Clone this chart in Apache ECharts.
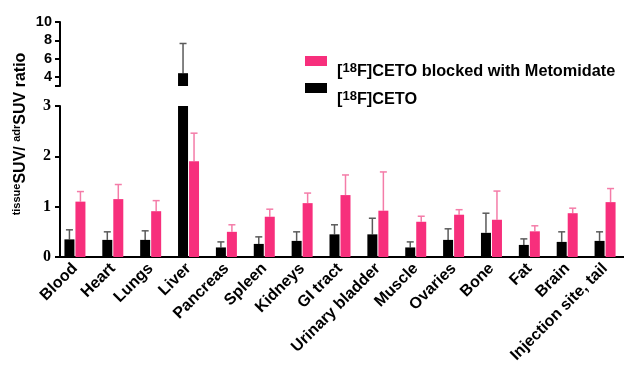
<!DOCTYPE html>
<html>
<head>
<meta charset="utf-8">
<script src="https://cdn.jsdelivr.net/npm/echarts@6.0.0/dist/echarts.min.js"></script>
<style>
  html, body { margin: 0; padding: 0; background: #fff; }
  #chart { width: 624px; height: 371px; }
</style>
</head>
<body>
<div id="chart"></div>
<script>
// Tissue-to-adrenal SUV ratios per organ, mean and upper error (SD)
const categories = ['Blood', 'Heart', 'Lungs', 'Liver', 'Pancreas', 'Spleen', 'Kidneys', 'GI tract',
  'Urinary bladder', 'Muscle', 'Ovaries', 'Bone', 'Fat', 'Brain', 'Injection site, tail'];
const cetoMean    = [0.35, 0.34, 0.34, 4.40, 0.19, 0.26, 0.32, 0.45, 0.45, 0.19, 0.34, 0.48, 0.24, 0.30, 0.32];
const cetoErr     = [0.19, 0.16, 0.18, 3.25, 0.11, 0.14, 0.18, 0.19, 0.32, 0.11, 0.22, 0.39, 0.12, 0.20, 0.18];
const blockedMean = [1.10, 1.15, 0.91, 1.90, 0.50, 0.80, 1.07, 1.23, 0.92, 0.70, 0.84, 0.74, 0.51, 0.87, 1.09];
const blockedErr  = [0.20, 0.29, 0.21, 0.56, 0.14, 0.15, 0.20, 0.40, 0.77, 0.11, 0.10, 0.57, 0.11, 0.10, 0.27];

// Broken y axis: lower segment 0–3, upper segment 3–10
const lowerTicks = [0, 1, 2, 3];
const upperTicks = [4, 6, 8, 10];
const breakValue = 3;
const upperMax = 10;

const seriesNames = ['[18F]CETO', '[18F]CETO blocked with Metomidate'];

const PINK = '#f72f7c';
const PINK_ERR = '#f47ca8';
const BLACK = '#000';
const BLACK_ERR = '#5a5a5a';
const BAR_W = 10;
const BAR_GAP = 1;
const barOffset = (BAR_W + BAR_GAP) / 2;
const capHalf = 3.5;

const chart = echarts.init(document.getElementById('chart'), null, { renderer: 'canvas' });

function errorRenderer(side, color) {
  return function (params, api) {
    const i = api.value(0);
    const mean = api.value(1);
    const top = mean + api.value(2);
    const base = api.coord([i, mean]);
    const tip = api.coord([i, top]);
    const x = base[0] + side * barOffset;
    const style = { stroke: color, lineWidth: 1.5 };
    return {
      type: 'group',
      children: [
        { type: 'line', shape: { x1: x, y1: base[1], x2: x, y2: tip[1] }, style: style },
        { type: 'line', shape: { x1: x - capHalf, y1: tip[1], x2: x + capHalf, y2: tip[1] }, style: style }
      ]
    };
  };
}

function errData(means, errs, inUpper) {
  const out = [];
  means.forEach(function (m, i) {
    if (inUpper ? m > breakValue : m <= breakValue) out.push([i, m, errs[i]]);
  });
  return out;
}

const upperOnly = function (arr) { return arr.map(function (v) { return v > breakValue ? v : '-'; }); };

const axisLineStyle = { color: '#000', width: 2 };

const option = {
  animation: false,
  backgroundColor: '#fff',
  grid: [
    { left: 56, top: 22, width: 575.4, height: 64 },
    { left: 56, top: 106, width: 575.4, height: 151 }
  ],
  xAxis: [
    { type: 'category', gridIndex: 0, data: categories, show: false },
    {
      type: 'category', gridIndex: 1, data: categories,
      axisLine: { lineStyle: axisLineStyle },
      axisTick: { alignWithLabel: true, length: 5, lineStyle: { color: '#000', width: 2 } },
      axisLabel: {
        rotate: 45, interval: 0, margin: 9, color: '#000',
        fontFamily: 'Liberation Sans', fontWeight: 'bold', fontSize: 16
      }
    }
  ],
  yAxis: [
    {
      type: 'value', gridIndex: 0, min: breakValue, max: upperMax, offset: -4,
      axisLine: { show: true, lineStyle: axisLineStyle },
      axisTick: { show: true, length: 5, customValues: [breakValue].concat(upperTicks), lineStyle: { color: '#000', width: 2 } },
      axisLabel: { customValues: upperTicks, margin: 8, color: '#000', fontFamily: 'Liberation Sans', fontWeight: 'bold', fontSize: 14.5 },
      splitLine: { show: false }
    },
    {
      type: 'value', gridIndex: 1, min: lowerTicks[0], max: lowerTicks[lowerTicks.length - 1], interval: 1, offset: -4,
      axisLine: { show: true, lineStyle: axisLineStyle },
      axisTick: { show: true, length: 5, lineStyle: { color: '#000', width: 2 } },
      axisLabel: { margin: 9, color: '#000', fontFamily: 'Liberation Serif', fontWeight: 'bold', fontSize: 16 },
      splitLine: { show: false }
    }
  ],
  series: [
    { name: seriesNames[0], type: 'bar', xAxisIndex: 1, yAxisIndex: 1, data: cetoMean,
      barWidth: BAR_W, barGap: (BAR_GAP / BAR_W * 100) + '%', itemStyle: { color: BLACK } },
    { name: seriesNames[1], type: 'bar', xAxisIndex: 1, yAxisIndex: 1, data: blockedMean,
      barWidth: BAR_W, itemStyle: { color: PINK } },
    { name: seriesNames[0], type: 'bar', xAxisIndex: 0, yAxisIndex: 0, data: upperOnly(cetoMean),
      barWidth: BAR_W, barGap: (BAR_GAP / BAR_W * 100) + '%', itemStyle: { color: BLACK } },
    { name: seriesNames[1], type: 'bar', xAxisIndex: 0, yAxisIndex: 0, data: upperOnly(blockedMean),
      barWidth: BAR_W, itemStyle: { color: PINK } },
    { type: 'custom', xAxisIndex: 1, yAxisIndex: 1, clip: true, z: 1,
      renderItem: errorRenderer(-1, BLACK_ERR), data: errData(cetoMean, cetoErr, false) },
    { type: 'custom', xAxisIndex: 1, yAxisIndex: 1, clip: true, z: 1,
      renderItem: errorRenderer(1, PINK_ERR), data: errData(blockedMean, blockedErr, false) },
    { type: 'custom', xAxisIndex: 0, yAxisIndex: 0, clip: false, z: 1,
      renderItem: errorRenderer(-1, BLACK_ERR), data: errData(cetoMean, cetoErr, true) },
    { type: 'custom', xAxisIndex: 0, yAxisIndex: 0, clip: false, z: 1,
      renderItem: errorRenderer(1, PINK_ERR), data: errData(blockedMean, blockedErr, true) }
  ],
  graphic: [
    // y-axis title with superscript prefixes
    {
      type: 'text', x: 21, y: 134, rotation: Math.PI / 2,
      style: {
        text: '{s|tissue}{b|SUV/ }{s|adr}{b|SUV ratio}',
        align: 'center', verticalAlign: 'middle',
        rich: {
          b: { fontFamily: 'Liberation Sans', fontWeight: 'bold', fontSize: 16, lineHeight: 20, verticalAlign: 'middle', fill: '#000' },
          s: { fontFamily: 'Liberation Sans', fontWeight: 'bold', fontSize: 11, lineHeight: 13, verticalAlign: 'top', fill: '#000' }
        }
      }
    },
    // legend swatches and labels
    { type: 'rect', shape: { x: 305, y: 56, width: 22, height: 10 }, style: { fill: PINK } },
    { type: 'rect', shape: { x: 305, y: 83, width: 22, height: 10 }, style: { fill: BLACK } },
    {
      type: 'text', x: 337, y: 62,
      style: {
        text: '{b|[}{s|18}{b|F]CETO blocked with Metomidate}',
        align: 'left', verticalAlign: 'top',
        rich: {
          b: { fontFamily: 'Liberation Sans', fontWeight: 'bold', fontSize: 16.3, lineHeight: 20, verticalAlign: 'middle', fill: '#000' },
          s: { fontFamily: 'Liberation Sans', fontWeight: 'bold', fontSize: 13, lineHeight: 5, verticalAlign: 'top', fill: '#000' }
        }
      }
    },
    {
      type: 'text', x: 337, y: 90,
      style: {
        text: '{b|[}{s|18}{b|F]CETO}',
        align: 'left', verticalAlign: 'top',
        rich: {
          b: { fontFamily: 'Liberation Sans', fontWeight: 'bold', fontSize: 16.3, lineHeight: 20, verticalAlign: 'middle', fill: '#000' },
          s: { fontFamily: 'Liberation Sans', fontWeight: 'bold', fontSize: 13, lineHeight: 5, verticalAlign: 'top', fill: '#000' }
        }
      }
    }
  ]
};

chart.setOption(option);
</script>
</body>
</html>
